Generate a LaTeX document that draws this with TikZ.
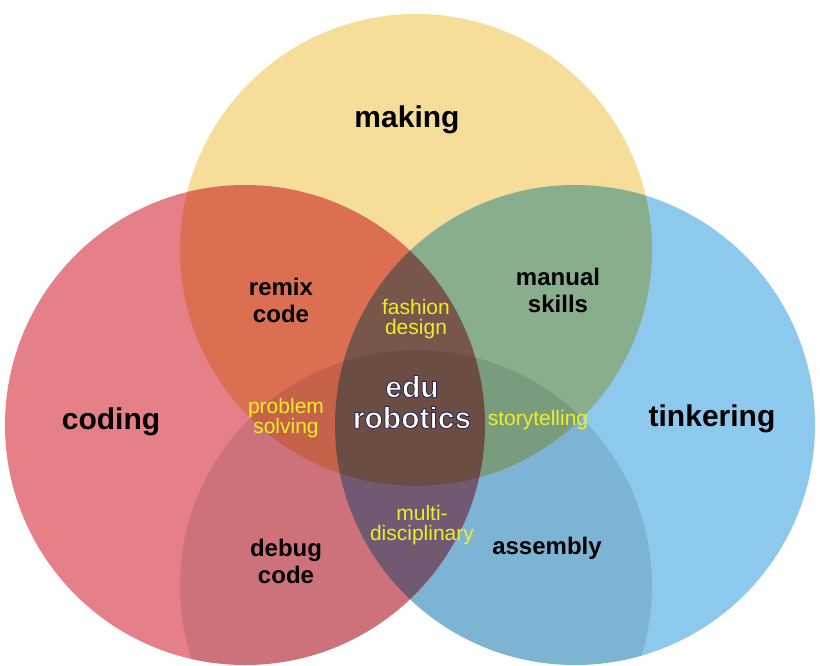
\documentclass[tikz,border=0pt]{standalone}
\usepackage{fontspec}
\setmainfont{Liberation Sans}
\newfontfamily\edufont{Liberation Sans Bold}[FakeBold=3]

\definecolor{makingyellow}{RGB}{246,221,153}
\definecolor{codingpink}{RGB}{229,128,137}
\definecolor{tinkerblue}{RGB}{141,201,236}
\definecolor{linkyellow}{RGB}{238,238,40}

% white letters with a navy rim (stroke colour set by hand)
\newcommand{\navyrim}{\special{pdf:code 0.16 0.16 0.31 RG}}

\tikzset{
  setfill/.style={fill=#1, blend mode=multiply},
  biglabel/.style={font=\fontsize{30}{33}\selectfont\bfseries, anchor=base, inner sep=0pt},
  skilllabel/.style={font=\fontsize{24}{27}\selectfont\bfseries, align=center, inner sep=0pt},
  linklabel/.style={font=\fontsize{21}{20}\selectfont, text=linkyellow, align=center, inner sep=0pt},
  corelabel/.style={font=\edufont\fontsize{30}{31}\selectfont, text=white, align=center, inner sep=0pt}
}

\begin{document}
\begin{tikzpicture}[x=1pt, y=-1pt]
    \useasboundingbox (0,0) rectangle (820,666);

    % Centres of the three sets and of the lower ring
    \coordinate (Cmaking) at (416,250);
    \coordinate (Ccoding) at (245,425);
    \coordinate (Ctinker) at (575,425);
    \coordinate (Clower) at (416,586);

    % The three sets, mixed by multiplying
    \fill[setfill=makingyellow] (Cmaking) circle (236pt);
    \fill[setfill=codingpink] (Ccoding) circle (240pt);
    \fill[setfill=tinkerblue] (Ctinker) circle (240pt);

    % The lower ring only darkens what is coloured
    \begin{scope}
        \clip (Ccoding) circle (240pt) (Ctinker) circle (240pt);
        \fill[setfill=black!10] (Clower) circle (236pt);
    \end{scope}

    % Set names
    \node[biglabel] (making) at (407,128) {making};
    \node[biglabel] (coding) at (111,429) {coding};
    \node[biglabel] (tinkering) at (712,426) {tinkering};

    % Skills in the overlaps
    \node[skilllabel] (remix) at (281,300) {remix\\code};
    \node[skilllabel] (manual) at (558,290) {manual\\skills};
    \node[skilllabel] (debug) at (286,561) {debug\\code};
    \node[skilllabel, anchor=base] (assembly) at (547,554) {assembly};

    % Yellow links
    \node[linklabel] (fashion) at (416,319) {fashion\\design};
    \node[linklabel] (problem) at (286,418) {problem\\solving};
    \node[linklabel] (multi) at (422,525) {multi-\\disciplinary};
    \node[linklabel, anchor=base] (story) at (538,425) {storytelling};

    % Centre
    \node[corelabel] (edu) at (412,402) {\navyrim edu\\\navyrim robotics};

\end{tikzpicture}
\end{document}
